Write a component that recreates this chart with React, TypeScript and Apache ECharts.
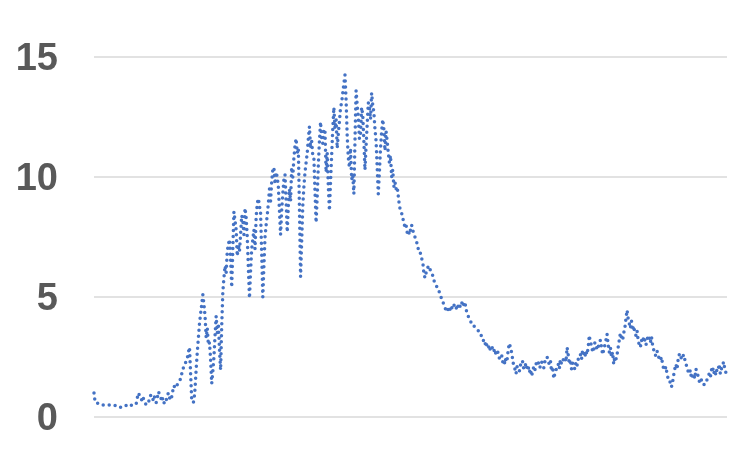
import React, { useEffect, useRef } from "react";
import * as echarts from "echarts";

// y-axis ticks
const yTicks = [0, 5, 10, 15];

// Values (two readings per step), split by phase of the curve
const lowPhase = [
  1.0, 0.62, 0.6, 0.58, 0.55, 0.55, 0.55, 0.52, 0.5, 0.5,
  0.5, 0.5, 0.5, 0.5, 0.5, 0.5, 0.5, 0.5, 0.5, 0.48,
  0.45, 0.45, 0.45, 0.42, 0.4, 0.4, 0.4, 0.42, 0.45, 0.48,
  0.5, 0.47, 0.45, 0.48, 0.5, 0.5, 0.5, 0.5, 0.55, 0.8,
  1.0, 0.9, 0.8, 0.7, 0.85, 0.7, 0.6, 0.5, 0.55, 0.6,
  0.75, 0.9, 0.85, 0.7, 0.9, 0.75, 0.6, 0.8, 1.05, 0.95,
  0.85, 0.65, 0.8, 0.6, 0.55, 0.7, 0.9, 1.0, 0.8, 0.7,
  0.85, 1.1, 1.3, 1.2, 1.3, 1.35, 1.4, 1.5, 1.6, 1.8,
  2.0, 2.1, 2.2, 2.35, 2.45, 2.7, 2.9, 1.8,
];

const risePhase = [
  0.7, 0.6, 0.65, 1.2, 2.0, 2.7, 3.3, 3.9, 4.3, 4.7,
  5.1, 4.7, 4.2, 3.3, 3.7, 3.0, 3.1, 2.4, 1.4, 1.9,
  2.5, 3.4, 4.2, 3.5, 3.9, 2.8, 1.96, 3.8, 5.2, 5.8,
  6.3, 6.0, 6.9, 7.2, 7.4, 6.6, 5.4, 7.0, 8.55, 8.2,
  7.8, 6.7, 7.2, 6.9, 7.6, 8.4, 8.2, 7.6, 8.7, 8.3,
  7.5, 6.2, 4.95, 6.1, 7.0, 7.4, 7.8, 7.0, 8.3, 8.9,
  9.1, 8.8, 8.5, 6.8, 5.0, 6.3, 7.5, 8.0, 8.4, 8.9,
  9.5, 9.0, 9.8, 10.3, 10.4, 9.7, 10.2, 10.0, 9.6, 8.6,
  7.6, 8.6, 9.3, 9.9, 10.1, 9.0, 7.7, 8.8, 9.5, 9.0,
  10.4, 10.0, 10.8, 11.3, 11.6, 11.0, 11.2, 8.7, 5.85, 7.3,
  8.8, 9.6, 10.2, 10.6, 11.0, 11.6, 12.1, 11.2, 11.5, 10.9,
  10.8, 9.4, 8.1, 9.2, 10.5, 11.5, 12.3, 11.6, 11.4, 12.0,
  11.9, 10.2, 11.0, 9.6, 8.6, 9.8, 10.9, 12.0, 12.9, 12.0,
  12.4, 11.2, 11.8, 12.3, 12.9, 13.1, 13.5, 13.9, 14.25, 13.2,
  11.7, 10.8, 10.4, 11.2, 9.9, 10.1, 9.3, 11.5, 13.6, 13.0,
  12.5, 11.6, 11.8, 12.9, 12.6, 11.5, 10.3, 11.3, 12.2, 13.1,
  12.9, 12.4, 13.5, 13.0, 12.7, 12.0, 11.5, 10.4, 9.3, 10.2,
  11.2, 11.9, 12.4, 12.0, 11.1, 11.9, 11.5, 11.0, 10.6, 10.9,
  10.0, 10.3, 9.6, 9.8,
];

const declinePhase = [
  9.5, 9.6, 9.2, 8.8, 8.6, 8.5, 8.3, 8.1, 7.9, 8.0,
  7.7, 7.8, 7.6, 7.8, 8.0, 7.8, 7.6, 7.5, 7.4, 7.2,
  7.0, 7.0, 6.8, 6.6, 6.5, 6.0, 5.8, 6.0, 6.1, 6.3,
  6.25, 6.1, 6.0, 5.9, 5.7, 5.6, 5.5, 5.4, 5.3, 5.2,
  5.1, 4.9, 4.8, 4.7, 4.6, 4.4, 4.4, 4.5, 4.6, 4.4,
  4.5, 4.7, 4.7, 4.5, 4.5, 4.7, 4.6, 4.5, 4.7, 4.8,
  4.6, 4.7, 4.8, 4.5, 4.3, 4.2, 4.1, 4.0, 3.9, 3.9,
  3.8, 3.75, 3.7, 3.65, 3.6, 3.5, 3.4, 3.4,
];

const tailPhase = [
  3.35, 3.1, 3.0, 3.15, 2.9, 2.85, 3.0, 2.75, 2.8, 2.95,
  2.85, 2.6, 2.7, 2.8, 2.65, 2.45, 2.5, 2.6, 2.3, 2.4,
  2.2, 2.5, 2.4, 2.8, 3.07, 2.9, 2.7, 2.4, 2.1, 2.0,
  1.8, 2.1, 2.0, 1.9, 2.15, 2.35, 2.3, 2.0, 2.1, 2.25,
  2.0, 2.1, 1.85, 2.0, 1.7, 1.9, 2.1, 1.95, 2.2, 2.35,
  2.3, 2.05, 2.1, 2.3, 2.2, 2.05, 2.3, 2.45, 2.5, 2.3,
  2.2, 2.35, 1.9, 2.1, 1.6, 1.8, 1.95, 2.1, 2.2, 2.0,
  2.4, 2.2, 2.3, 2.45, 2.5, 2.3, 2.9, 2.6, 2.2, 2.4,
  2.0, 2.25, 2.1, 2.0, 2.3, 2.15, 2.4, 2.6, 2.6, 2.4,
  2.8, 2.6, 2.5, 2.75, 2.6, 2.9, 3.4, 3.1, 3.0, 2.7,
  2.8, 3.1, 3.05, 2.8, 2.9, 3.1, 3.2, 2.9, 2.6, 2.8,
  3.0, 3.2, 3.45, 3.0, 2.7, 2.9, 2.5, 2.7, 2.2, 2.5,
  2.4, 2.6, 2.9, 3.2, 3.5, 3.3, 3.2, 3.5, 3.7, 4.1,
  4.45, 4.1, 3.9, 3.7, 4.0, 3.6, 3.8, 3.5, 3.4, 3.6,
  3.2, 3.0, 2.9, 3.2, 3.1, 3.35, 3.2, 3.0, 3.2, 3.4,
  3.3, 3.1, 3.35, 3.0, 2.8, 2.6, 2.55, 2.75, 2.6, 2.4,
  2.35, 2.5, 2.2, 2.0, 1.95, 2.1, 1.8, 1.6, 1.6, 1.4,
  1.25, 1.45, 1.75, 2.0, 2.2, 2.0, 2.4, 2.6, 2.65, 2.4,
  2.5, 2.6, 2.4, 2.2, 2.1, 1.9, 1.8, 1.95, 1.6, 1.75,
  1.8, 1.6, 2.0, 1.85, 1.7, 1.5, 1.4, 1.55, 1.5, 1.35,
  1.35, 1.5, 1.55, 1.7, 1.8, 1.65, 1.95, 2.1, 1.8, 1.95,
  1.75, 2.0, 1.95, 2.2, 1.8, 2.0, 2.15, 2.3, 2.0, 1.85,
  1.75,
];

const values = [...lowPhase, ...risePhase, ...declinePhase, ...tailPhase];
const steps = values.map((_, i) => String(i + 1));

export default function App() {
  const ref = useRef<HTMLDivElement>(null);
  useEffect(() => {
    const chart = echarts.init(ref.current!, null, { renderer: "svg" });
    chart.setOption({
      animation: false,
      grid: { left: 94, right: 23, top: 57, bottom: 33 },
      xAxis: {
        type: "category",
        data: steps,
        boundaryGap: false,
        show: false,
      },
      yAxis: {
        type: "value",
        min: yTicks[0],
        max: yTicks[yTicks.length - 1],
        interval: 5,
        axisLine: { show: false },
        axisTick: { show: false },
        splitLine: { lineStyle: { color: "#d9d9d9", width: 1.5 } },
        axisLabel: {
          color: "#595959",
          fontSize: 38,
          fontWeight: "bold",
          fontFamily: "Liberation Sans",
          margin: 36,
        },
      },
      series: [
        {
          type: "line",
          data: values,
          showSymbol: false,
          symbol: "none",
          lineStyle: {
            color: "#4472C4",
            width: 3.5,
            type: [0, 6],
            cap: "round",
            join: "round",
          },
        },
      ],
    });
    return () => chart.dispose();
  }, []);
  return (
    <div
      ref={ref}
      style={{ position: "fixed", left: 0, top: 0, width: 750, height: 450 }}
    />
  );
}
